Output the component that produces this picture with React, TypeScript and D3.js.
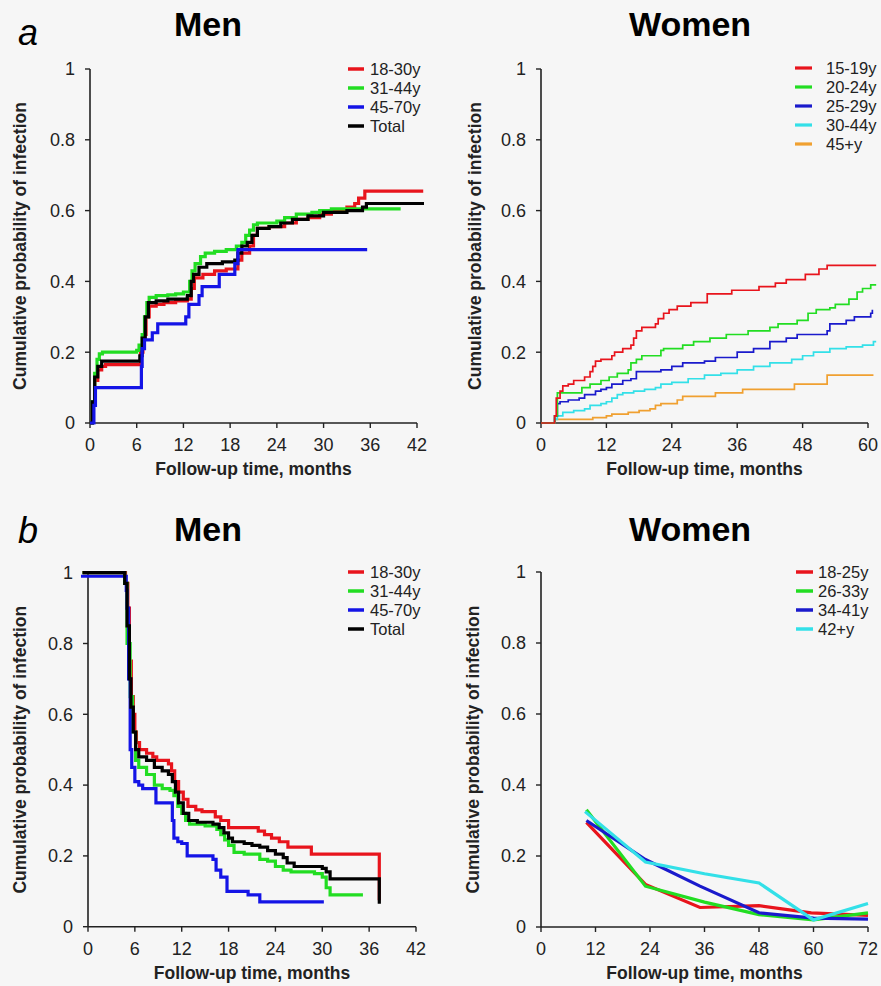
import React from 'react';
import * as d3 from 'd3';

type Pt = [number, number];

// ---------- tick values ----------
const yTickValues = [0, 0.2, 0.4, 0.6, 0.8, 1];
const yTickLabels = ['0', '0.2', '0.4', '0.6', '0.8', '1'];
const menTicks = [0, 6, 12, 18, 24, 30, 36, 42];
const womenATicks = [0, 12, 24, 36, 48, 60];
const womenBTicks = [0, 12, 24, 36, 48, 60, 72];

// ---------- colours ----------
const RED = '#e8141c';
const GREEN = '#22dd22';
const BLUE = '#1414e6';
const DBLUE = '#1a1acc';
const BLACK = '#000000';
const CYAN = '#33e0e8';
const ORANGE = '#f0a030';

// ---------- panel a, Men ----------
const menA_labels = ['18-30y', '31-44y', '45-70y', 'Total'];
const menA_18_30: Pt[] = [[0,0],[0.3,0.05],[0.6,0.12],[1.0,0.15],[1.5,0.16],[2,0.165],[6.5,0.2],[6.8,0.25],[7.2,0.3],[7.6,0.33],[8.5,0.335],[9.5,0.34],[11,0.345],[12.5,0.35],[13,0.38],[13.4,0.41],[14.5,0.42],[16,0.43],[17.5,0.435],[19,0.46],[19.5,0.48],[20.5,0.5],[21,0.53],[21.5,0.55],[23,0.555],[25,0.565],[26.5,0.575],[28,0.58],[29.5,0.59],[31,0.6],[33,0.61],[34,0.62],[34.5,0.635],[35.3,0.655],[42.8,0.655]];
const menA_31_44: Pt[] = [[0,0],[0.3,0.06],[0.6,0.14],[0.9,0.18],[1.2,0.195],[1.6,0.2],[6.0,0.205],[6.3,0.22],[6.7,0.25],[7.0,0.3],[7.3,0.34],[7.6,0.355],[8.5,0.36],[10,0.362],[11,0.365],[12,0.37],[12.8,0.4],[13.1,0.43],[13.5,0.45],[14.2,0.47],[14.8,0.48],[16,0.485],[17.5,0.49],[18.8,0.5],[19.5,0.51],[20,0.53],[20.5,0.545],[21,0.56],[21.5,0.565],[24,0.57],[25,0.58],[26.5,0.59],[28.5,0.595],[29.5,0.6],[31,0.605],[39.9,0.605]];
const menA_45_70: Pt[] = [[0,0],[0.5,0.05],[0.7,0.1],[6.6,0.16],[6.7,0.21],[7.0,0.235],[8.0,0.255],[8.7,0.28],[12.3,0.3],[12.7,0.335],[14.0,0.36],[14.4,0.385],[16.6,0.42],[18.6,0.45],[19.0,0.49],[35.6,0.49]];
const menA_total: Pt[] = [[0,0],[0.3,0.06],[0.6,0.13],[1.0,0.16],[1.5,0.175],[6.4,0.19],[6.7,0.24],[7.1,0.3],[7.5,0.34],[8.5,0.345],[10,0.35],[12.5,0.36],[13,0.4],[13.3,0.42],[14,0.44],[15,0.45],[17,0.455],[18.6,0.46],[19,0.48],[19.5,0.5],[20.2,0.51],[20.8,0.53],[21.5,0.55],[23,0.555],[24.5,0.565],[26,0.575],[28,0.585],[30,0.595],[33,0.6],[35,0.61],[35.5,0.62],[42.9,0.62]];

// ---------- panel a, Women ----------
const womenA_labels = ['15-19y', '20-24y', '25-29y', '30-44y', '45+y'];
const womenA_15_19: Pt[] = [[0,0],[2.5,0.02],[2.8,0.07],[3.5,0.09],[4,0.105],[5,0.11],[6,0.12],[8,0.13],[9,0.145],[9.5,0.16],[10,0.175],[11,0.18],[13,0.19],[13.5,0.2],[15,0.21],[16.5,0.22],[17,0.24],[17.5,0.26],[18.5,0.27],[21,0.28],[21.5,0.295],[22.5,0.31],[23.5,0.32],[25,0.33],[27.5,0.34],[30.5,0.365],[35,0.375],[40,0.385],[43,0.395],[45,0.405],[48.5,0.42],[51,0.435],[52.5,0.445],[61.5,0.445]];
const womenA_20_24: Pt[] = [[0,0],[2.5,0.02],[3,0.085],[7.5,0.1],[9,0.11],[11,0.12],[12.5,0.13],[14,0.14],[16,0.15],[16.5,0.17],[17.5,0.18],[18.5,0.19],[22,0.205],[22.5,0.21],[26,0.22],[28,0.23],[31,0.24],[34,0.25],[38,0.26],[42,0.27],[43.5,0.28],[47,0.29],[49,0.31],[50.5,0.32],[53,0.325],[54,0.335],[56.5,0.35],[58,0.37],[59,0.38],[60.5,0.39],[61.5,0.39]];
const womenA_25_29: Pt[] = [[0,0],[2.5,0.02],[3,0.055],[3.5,0.06],[5,0.065],[7,0.07],[8,0.08],[10,0.09],[11,0.095],[12,0.1],[13,0.11],[15,0.12],[16.5,0.125],[17.5,0.145],[22,0.15],[24,0.16],[26,0.17],[30,0.175],[32,0.185],[36,0.2],[39,0.21],[42,0.23],[45,0.24],[47,0.25],[52.5,0.26],[53,0.28],[56,0.29],[57.5,0.3],[60.5,0.31],[60.8,0.32]];
const womenA_30_44: Pt[] = [[0,0],[2.5,0.01],[3,0.02],[4,0.03],[6,0.035],[8,0.04],[9,0.05],[11,0.055],[12,0.06],[13,0.07],[14,0.08],[15,0.085],[17,0.09],[19,0.095],[21,0.1],[22,0.11],[24,0.115],[27,0.125],[30,0.135],[33,0.14],[36,0.15],[39,0.16],[42,0.17],[46,0.18],[48,0.19],[50,0.2],[53,0.21],[56,0.215],[59,0.22],[61,0.23],[61.5,0.23]];
const womenA_45p: Pt[] = [[0,0],[2.6,0.01],[9.5,0.015],[12,0.02],[13,0.025],[16,0.03],[18,0.035],[20,0.04],[21,0.05],[22,0.055],[25,0.065],[26,0.075],[32,0.085],[37,0.095],[46.5,0.11],[52.5,0.135],[61,0.135]];

// ---------- panel b, Men ----------
const menB_labels = ['18-30y', '31-44y', '45-70y', 'Total'];
const menB_18_30: Pt[] = [[-0.7,1],[4.8,0.97],[5.1,0.9],[5.3,0.75],[5.55,0.65],[5.8,0.6],[6.0,0.55],[6.2,0.52],[6.6,0.5],[7.5,0.49],[8.3,0.48],[8.8,0.47],[10.3,0.46],[10.7,0.44],[11.1,0.41],[11.6,0.38],[12.2,0.36],[12.8,0.34],[13.8,0.33],[14.6,0.325],[16.3,0.31],[17.0,0.3],[18.0,0.28],[21.8,0.27],[22.6,0.26],[23.5,0.25],[24.5,0.24],[25.6,0.225],[28.6,0.205],[37.3,0.075]];
const menB_31_44: Pt[] = [[-0.7,1],[4.7,0.97],[5.0,0.8],[5.4,0.65],[5.7,0.55],[6.1,0.47],[6.5,0.45],[7.5,0.43],[8.5,0.4],[9.5,0.39],[10.5,0.385],[11,0.37],[11.5,0.34],[12,0.32],[12.5,0.3],[13,0.29],[15,0.285],[16.5,0.275],[17,0.26],[17.5,0.245],[18,0.23],[18.7,0.21],[20,0.205],[22,0.19],[23,0.185],[24,0.17],[25,0.16],[26,0.155],[29,0.15],[30,0.14],[30.5,0.11],[31,0.09],[35,0.085]];
const menB_45_70: Pt[] = [[-0.9,0.99],[4.9,0.95],[5.0,0.9],[5.2,0.7],[5.4,0.5],[5.6,0.45],[6,0.41],[6.5,0.4],[7,0.39],[8.7,0.35],[10.5,0.35],[10.8,0.3],[11,0.25],[11.5,0.24],[12,0.235],[12.7,0.2],[16,0.19],[16.4,0.16],[17,0.14],[17.8,0.1],[20.5,0.09],[22,0.07],[30.2,0.07]];
const menB_total: Pt[] = [[-0.7,1],[4.7,0.97],[5.0,0.85],[5.3,0.7],[5.5,0.62],[5.8,0.55],[6.1,0.5],[6.5,0.48],[7.5,0.47],[8.5,0.45],[9.5,0.44],[10.3,0.43],[10.8,0.41],[11.2,0.38],[11.6,0.35],[12.2,0.32],[12.9,0.3],[14,0.295],[16,0.29],[16.8,0.28],[17.4,0.265],[18,0.25],[18.5,0.24],[20,0.235],[21,0.23],[22,0.225],[23,0.215],[24,0.205],[25,0.195],[25.5,0.18],[26.4,0.17],[30,0.165],[30.5,0.155],[31,0.135],[37.3,0.065]];

// ---------- panel b, Women ----------
const womenB_labels = ['18-25y', '26-33y', '34-41y', '42+y'];
const womenB_18_25: Pt[] = [[10,0.295],[23,0.12],[35,0.055],[48,0.06],[59.5,0.04],[72,0.033]];
const womenB_26_33: Pt[] = [[10,0.33],[23,0.115],[36,0.07],[48,0.035],[60,0.02],[72,0.04]];
const womenB_34_41: Pt[] = [[10,0.3],[23,0.19],[35,0.115],[48,0.04],[60,0.025],[72,0.022]];
const womenB_42p: Pt[] = [[9.7,0.325],[23,0.183],[36,0.15],[48,0.124],[60,0.02],[72,0.066]];

const FONT = 'Arial, "Liberation Sans", Helvetica, sans-serif';
const INK = '#222';

interface Series { label: string; color: string; data: Pt[]; }
interface PanelProps {
  x0: number; x1: number; yTop: number; yBot: number;
  xMax: number; xTicks: number[];
  series: Series[]; drawOrder: number[];
  step: boolean; lineWidth: number;
  legLine: [number, number]; legText: number; legY0: number; legDy: number; legWidth: number;
  title: string; titleX: number; titleY: number; yLabelX: number;
}

function Panel(p: PanelProps) {
  const x = d3.scaleLinear().domain([0, p.xMax]).range([p.x0, p.x1]);
  const y = d3.scaleLinear().domain([0, 1]).range([p.yBot, p.yTop]);
  const line = d3.line<Pt>().x(d => x(d[0])).y(d => y(d[1])).curve(p.step ? d3.curveStepAfter : d3.curveLinear);
  const cx = (p.x0 + p.x1) / 2;
  const cy = (p.yTop + p.yBot) / 2;
  return (
    <g>
      <text x={p.titleX} y={p.titleY} fontFamily={FONT} fontWeight="bold" fontSize={34} textAnchor="middle" fill="#000">{p.title}</text>
      {/* axes */}
      <line x1={p.x0} x2={p.x0} y1={p.yTop} y2={p.yBot} stroke={INK} strokeWidth={1.6} />
      <line x1={p.x0} x2={p.x1} y1={p.yBot} y2={p.yBot} stroke={INK} strokeWidth={1.6} />
      {yTickValues.map((v, i) => (
        <g key={'y' + i}>
          <line x1={p.x0 - 5} x2={p.x0} y1={y(v)} y2={y(v)} stroke={INK} strokeWidth={1.4} />
          <text x={p.x0 - 15} y={y(v)} dy="0.35em" fontFamily={FONT} fontSize={18} textAnchor="end" fill={INK}>{yTickLabels[i]}</text>
        </g>
      ))}
      {p.xTicks.map((v, i) => (
        <g key={'x' + i}>
          <line x1={x(v)} x2={x(v)} y1={p.yBot} y2={p.yBot + 5} stroke={INK} strokeWidth={1.4} />
          <text x={x(v)} y={p.yBot + 28} fontFamily={FONT} fontSize={18} textAnchor="middle" fill={INK}>{String(v)}</text>
        </g>
      ))}
      <text x={cx} y={p.yBot + 52} fontFamily={FONT} fontWeight="bold" fontSize={17.5} textAnchor="middle" fill={INK}>Follow-up time, months</text>
      <text transform={`translate(${p.yLabelX},${cy}) rotate(-90)`} dy="0.35em" fontFamily={FONT} fontWeight="bold" fontSize={17.5} textAnchor="middle" fill={INK}>Cumulative probability of infection</text>
      {/* series */}
      {p.drawOrder.map(i => (
        <path key={'s' + i} d={line(p.series[i].data) || ''} fill="none" stroke={p.series[i].color} strokeWidth={p.lineWidth} strokeLinejoin="miter" />
      ))}
      {/* legend */}
      {p.series.map((s, i) => (
        <g key={'l' + i}>
          <line x1={p.legLine[0]} x2={p.legLine[1]} y1={p.legY0 + i * p.legDy} y2={p.legY0 + i * p.legDy} stroke={s.color} strokeWidth={p.legWidth} />
          <text x={p.legText} y={p.legY0 + i * p.legDy} dy="0.35em" fontFamily={FONT} fontSize={16.5} fill={INK}>{s.label}</text>
        </g>
      ))}
    </g>
  );
}

export default function App() {
  const menASeries: Series[] = [
    { label: menA_labels[0], color: RED, data: menA_18_30 },
    { label: menA_labels[1], color: GREEN, data: menA_31_44 },
    { label: menA_labels[2], color: BLUE, data: menA_45_70 },
    { label: menA_labels[3], color: BLACK, data: menA_total },
  ];
  const womenASeries: Series[] = [
    { label: womenA_labels[0], color: RED, data: womenA_15_19 },
    { label: womenA_labels[1], color: GREEN, data: womenA_20_24 },
    { label: womenA_labels[2], color: DBLUE, data: womenA_25_29 },
    { label: womenA_labels[3], color: CYAN, data: womenA_30_44 },
    { label: womenA_labels[4], color: ORANGE, data: womenA_45p },
  ];
  const menBSeries: Series[] = [
    { label: menB_labels[0], color: RED, data: menB_18_30 },
    { label: menB_labels[1], color: GREEN, data: menB_31_44 },
    { label: menB_labels[2], color: BLUE, data: menB_45_70 },
    { label: menB_labels[3], color: BLACK, data: menB_total },
  ];
  const womenBSeries: Series[] = [
    { label: womenB_labels[0], color: RED, data: womenB_18_25 },
    { label: womenB_labels[1], color: GREEN, data: womenB_26_33 },
    { label: womenB_labels[2], color: DBLUE, data: womenB_34_41 },
    { label: womenB_labels[3], color: CYAN, data: womenB_42p },
  ];
  return (
    <svg width={881} height={986} style={{ position: 'absolute', left: 0, top: 0, background: '#f6f6f6' }}>
      <rect x={0} y={0} width={881} height={986} fill="#f6f6f6" />
      <text x={18} y={45} fontFamily={FONT} fontStyle="italic" fontSize={36} fill="#000">a</text>
      <text x={18} y={543} fontFamily={FONT} fontStyle="italic" fontSize={36} fill="#000">b</text>
      <Panel x0={90} x1={417} yTop={69} yBot={423} xMax={42} xTicks={menTicks}
        series={menASeries} drawOrder={[0, 1, 3, 2]} step={true} lineWidth={3.2}
        legLine={[348, 364]} legText={370} legY0={69} legDy={19} legWidth={3.5}
        title="Men" titleX={208} titleY={36} yLabelX={20} />
      <Panel x0={541} x1={868} yTop={69} yBot={423} xMax={60} xTicks={womenATicks}
        series={womenASeries} drawOrder={[4, 3, 2, 1, 0]} step={true} lineWidth={1.7}
        legLine={[795, 812]} legText={826} legY0={68} legDy={19} legWidth={3.2}
        title="Women" titleX={690} titleY={36} yLabelX={475} />
      <Panel x0={88} x1={416} yTop={572.7} yBot={926.7} xMax={42} xTicks={menTicks}
        series={menBSeries} drawOrder={[0, 1, 2, 3]} step={true} lineWidth={3.2}
        legLine={[348, 364]} legText={370} legY0={572} legDy={19} legWidth={3.5}
        title="Men" titleX={208} titleY={541} yLabelX={20} />
      <Panel x0={541} x1={868} yTop={572} yBot={927} xMax={72} xTicks={womenBTicks}
        series={womenBSeries} drawOrder={[0, 1, 2, 3]} step={false} lineWidth={3.2}
        legLine={[796, 813]} legText={818} legY0={572} legDy={19} legWidth={3.5}
        title="Women" titleX={690} titleY={541} yLabelX={473} />
    </svg>
  );
}
